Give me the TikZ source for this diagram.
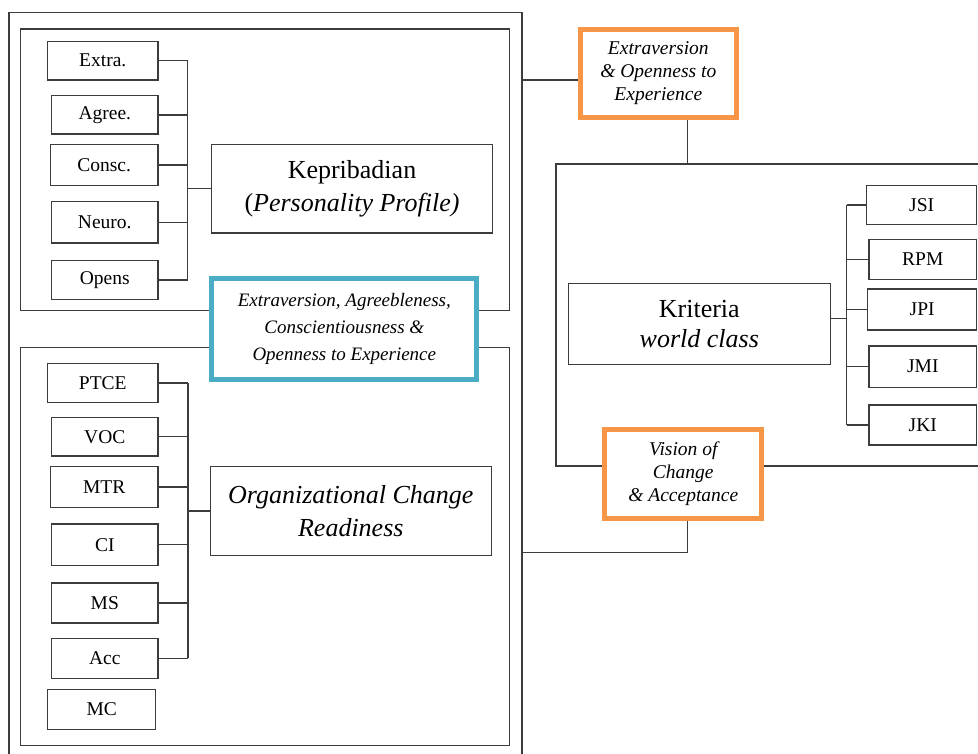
\documentclass[tikz,border=0pt]{standalone}
\usepackage{fontspec}
\setmainfont{Liberation Serif}
\definecolor{ln}{RGB}{60,60,60}
\definecolor{orng}{RGB}{247,150,70}
\definecolor{aqua}{RGB}{75,172,198}
\tikzset{
  frame/.style={draw=ln, line width=1.5pt},
  conn/.style={draw=ln, line width=1.5pt},
  sbox/.style={draw=ln, line width=1.5pt, fill=white, inner sep=0pt, font=\fontsize{19.5}{22}\selectfont},
  bigbox/.style={draw=ln, line width=1.5pt, fill=white, inner sep=0pt, align=center},
  obox/.style={draw=orng, line width=5pt, fill=white, inner sep=0pt, align=center, font=\fontsize{19.5}{23}\selectfont\itshape},
  bbox/.style={draw=aqua, line width=5pt, fill=white, inner sep=0pt, align=center, font=\fontsize{19}{26.7}\selectfont\itshape},
}
\begin{document}
\begin{tikzpicture}[x=1pt,y=-1pt]
\clip (0,0) rectangle (978,753);
\fill[white] (0,0) rectangle (978,753);
% frames
\draw[frame] (9,12.7) rectangle (522,775);
\draw[frame] (20.3,29) rectangle (509.6,310.7);
\draw[frame] (20.3,347.3) rectangle (509.6,745.3);
\draw[frame] (995,164) -- (556,164) -- (556,466) -- (995,466);
% coordinates
\coordinate (bx) at (187.7,0);
\coordinate (by) at (188,0);
\coordinate (bxr) at (846.7,0);
\coordinate (c1) at (522,80);
\coordinate (c2) at (687.7,164);
\coordinate (c3) at (522,552.7);
\coordinate (c4) at (687.7,552.7);
\coordinate (c5) at (846.7,318.3);
% personality group
\node[sbox, minimum width=110.3pt, minimum height=38.7pt] (extra) at (102.8,60.7) {Extra.};
\node[sbox, minimum width=106.3pt, minimum height=38.3pt] (agree) at (104.8,114.8) {Agree.};
\node[sbox, minimum width=107.7pt, minimum height=41pt] (consc) at (104.2,164.8) {Consc.};
\node[sbox, minimum width=106.3pt, minimum height=41.3pt] (neuro) at (104.8,222.3) {Neuro.};
\node[sbox, minimum width=106.3pt, minimum height=38.6pt] (opens) at (104.8,280) {Opens};
\node[bigbox, minimum width=280.6pt, minimum height=88.7pt, font=\fontsize{26}{33}\selectfont] (kep) at (352,188.7) {Kepribadian\\(\textit{Personality Profile)}};
\foreach \n in {extra,agree,consc,neuro,opens} \draw[conn] (\n.east) -- (\n.east -| bx);
\draw[conn] (extra.east -| bx) -- (opens.east -| bx);
\draw[conn] (kep.west) -- (kep.west -| bx);
% change readiness group
\node[sbox, minimum width=110.3pt, minimum height=38.6pt] (ptce) at (102.8,383) {PTCE};
\node[sbox, minimum width=106.3pt, minimum height=38.7pt] (voc) at (104.8,436.7) {VOC};
\node[sbox, minimum width=107.7pt, minimum height=41.4pt] (mtr) at (104.2,487) {MTR};
\node[sbox, minimum width=106.3pt, minimum height=41.3pt] (ci) at (104.8,544.7) {CI};
\node[sbox, minimum width=106.3pt, minimum height=40pt] (ms) at (104.8,603) {MS};
\node[sbox, minimum width=106.3pt, minimum height=40pt] (acc) at (104.8,658.3) {Acc};
\node[sbox, minimum width=108pt, minimum height=40.4pt] (mc) at (101.7,709.5) {MC};
\node[bigbox, minimum width=280.9pt, minimum height=89pt, font=\fontsize{26}{33}\selectfont\itshape] (ocr) at (350.8,510.8) {Organizational Change\\Readiness};
\foreach \n in {ptce,voc,mtr,ci,ms,acc} \draw[conn] (\n.east) -- (\n.east -| by);
\draw[conn] (ptce.east -| by) -- (acc.east -| by);
\draw[conn] (ocr.west) -- (ocr.west -| by);
% world class group
\node[bigbox, minimum width=262pt, minimum height=81.4pt, font=\fontsize{26}{30}\selectfont] (kri) at (699.3,324) {Kriteria\\\textit{world class}};
\node[sbox, minimum width=110pt, minimum height=38.6pt] (jsi) at (921.7,205) {JSI};
\node[sbox, minimum width=107.7pt, minimum height=40pt] (rpm) at (922.8,259.3) {RPM};
\node[sbox, minimum width=109pt, minimum height=41pt] (jpi) at (922.2,309.5) {JPI};
\node[sbox, minimum width=107.7pt, minimum height=41.3pt] (jmi) at (922.8,366.7) {JMI};
\node[sbox, minimum width=107.7pt, minimum height=40pt] (jki) at (922.8,425) {JKI};
\foreach \n in {jsi,rpm,jpi,jmi,jki} \draw[conn] (\n.west) -- (\n.west -| bxr);
\draw[conn] (jsi.west -| bxr) -- (jki.west -| bxr);
\draw[conn] (c5 -| kri.east) -- (c5);
% mediators
\node[bbox, minimum width=264.7pt, minimum height=100.5pt] (blue) at (344.3,328.8) {Extraversion, Agreebleness,\\Conscientiousness \&\\Openness to Experience};
\node[obox, minimum width=156.3pt, minimum height=88.3pt] (o1) at (658.3,73.3) {Extraversion\\\& Openness to\\Experience};
\node[obox, minimum width=157pt, minimum height=88.7pt] (o2) at (683.3,473.8) {Vision of\\Change\\\& Acceptance};
\draw[conn] (c1) -- (c1 -| o1.west);
\draw[conn] (c2 |- o1.south) -- (c2);
\draw[conn] (c4 |- o2.south) -- (c4) -- (c3);
\end{tikzpicture}
\end{document}
